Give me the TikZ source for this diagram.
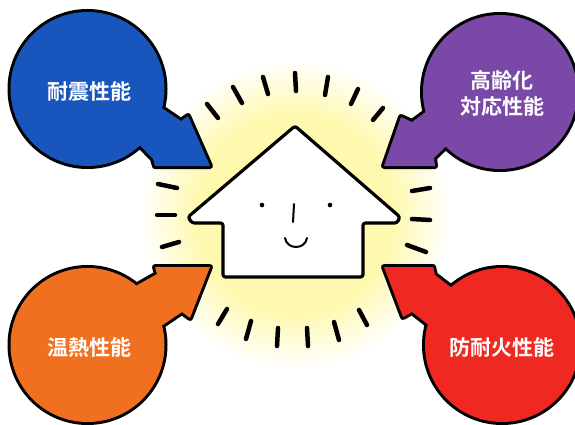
\documentclass[tikz,border=0pt]{standalone}
\usepackage{fontspec}
\newfontfamily\cjk{Noto Sans CJK JP}[BoldFont={Noto Sans CJK JP Bold}]
\definecolor{cblue}{RGB}{24,86,190}
\definecolor{cpurple}{RGB}{122,72,166}
\definecolor{corange}{RGB}{240,112,32}
\definecolor{cred}{RGB}{240,40,34}
\definecolor{glowc}{RGB}{255,249,175}
\pgfdeclareradialshading{houseglow}{\pgfpoint{0bp}{0bp}}{%
  color(0bp)=(glowc); color(16bp)=(glowc); color(20bp)=(glowc!55!white);
  color(25bp)=(white); color(50bp)=(white)}
\tikzset{
  bubbleedge/.style={draw=black, line width=6pt, line join=round},
  ray/.style={line width=4.5pt, line cap=round},
  housebody/.style={draw=black, fill=white, line width=3.2pt, line join=round, rounded corners=2.5pt},
  facepart/.style={line width=2pt, line cap=round},
  bubbletext/.style={text=white, align=center,
    font=\cjk\bfseries\fontsize{21}{26}\selectfont}
}
% a round balloon with an arrow: thick outline first, then the fill on top
\newcommand\balloon[3]{%
  \draw[bubbleedge, fill=#1] #2;
  \draw[bubbleedge, fill=#1] #3;
  \fill[#1] #2;
  \fill[#1] #3;
}
\begin{document}
\begin{tikzpicture}[x=1pt, y=-1pt]
\useasboundingbox (0,0) rectangle (575,425);
\clip (0,0) rectangle (575,425);
\fill[white] (0,0) rectangle (575,425);

% soft light around the house
\shade[shading=houseglow] (295,214) circle (155);

% rays of light
\foreach \ax/\ay/\bx/\by in {
  207/104/218/118, 233/87/242/103, 263/77/268/94, 295/73/296/91,
  328/77/325/95, 358/89/351/104, 383/108/373/120,
  158/184/177/188, 157/215/175/215, 162/247/179/242,
  412/191/430/188, 412/219/430/220, 407/245/426/252,
  227/309/218/324, 251/321/246/339, 278/328/277/346,
  307/328/308/346, 334/322/339/340, 359/310/367/325}
  \draw[ray] (\ax,\ay) -- (\bx,\by);

% four balloons pointing at the house
\balloon{cblue}{(87.5,89) circle (77)}
  {(150,100) -- (181,121) -- (188,116) -- (210,166) -- (155,166) -- (153,159) -- (125,130) -- cycle}
\balloon{cpurple}{(500,92) circle (77)}
  {(442,100) -- (412,122) -- (401,117) -- (384,166) -- (435,166) -- (434,158) -- (465,128) -- cycle}
\balloon{corange}{(87.5,345) circle (77)}
  {(125,292) -- (157,274) -- (155,267) -- (210,267) -- (190,318) -- (182,312) -- (145,337) -- cycle}
\balloon{cred}{(502,345) circle (77)}
  {(465,298) -- (435,275) -- (433,267) -- (384,267) -- (403,317) -- (412,312) -- (445,338) -- cycle}

\node[bubbletext] (tBlue) at (89,91) {耐震性能};
\node[bubbletext] (tPurple) at (502,93) {高齢化\\対応性能};
\node[bubbletext] (tOrange) at (89,347) {温熱性能};
\node[bubbletext] (tRed) at (502,347) {防耐火性能};

% the house with a smiling face
\draw[housebody] (192,223) -- (188,217) -- (295,126) -- (400,217) -- (397,223)
  -- (363,223) -- (363,277) -- (223,277) -- (223,223) -- cycle;
\fill (262,205) circle (2.3);
\fill (330,205) circle (2.3);
\draw[facepart] (294,204) -- (293,222);
\draw[facepart] (285,238) .. controls (287,250) and (305,250) .. (307,238);
\end{tikzpicture}
\end{document}
